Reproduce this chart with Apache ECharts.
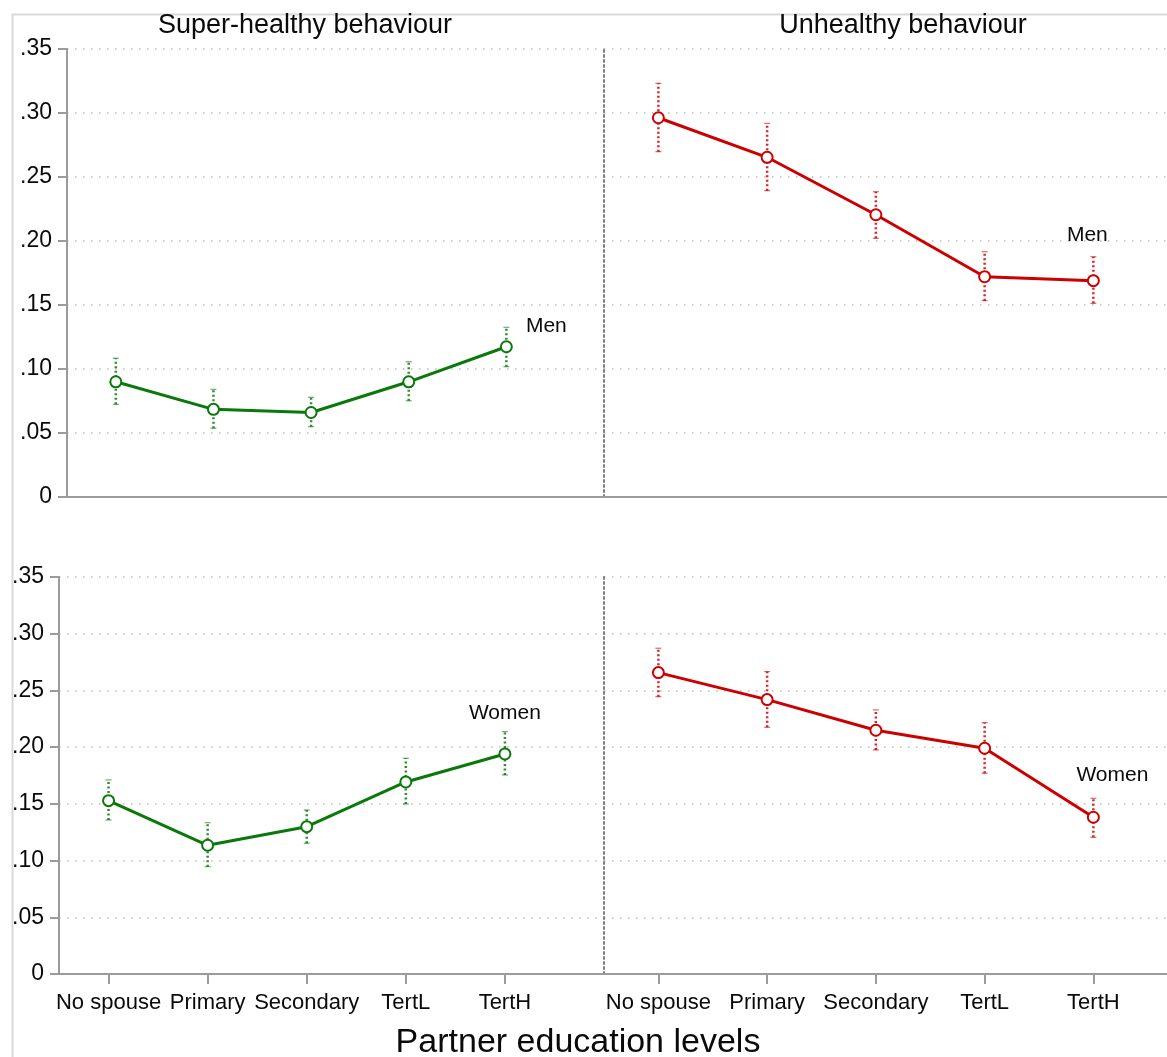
<!DOCTYPE html>
<html>
<head>
<meta charset="utf-8">
<script src="https://cdn.jsdelivr.net/npm/echarts@6/dist/echarts.min.js"></script>
<style>
  html, body { margin: 0; padding: 0; background: #ffffff; }
  #chart { width: 1167px; height: 1057px; }
</style>
</head>
<body>
<div id="chart"></div>
<script>
// Partner education categories (x positions 1..5)
const categories = ['No spouse', 'Primary', 'Secondary', 'TertL', 'TertH'];
const panelTitles = ['Super-healthy behaviour', 'Unhealthy behaviour'];
const axisTitle = 'Partner education levels';
const groupLabels = ['Men', 'Women'];

// Super-healthy behaviour, men: estimate and 95% CI
const superMen   = [0.0900, 0.0685, 0.0660, 0.0900, 0.1174];
const superMenLo = [0.0724, 0.0537, 0.0549, 0.0752, 0.1018];
const superMenHi = [0.1084, 0.0841, 0.0779, 0.1057, 0.1326];

// Unhealthy behaviour, men
const unhMen   = [0.2963, 0.2654, 0.2205, 0.1721, 0.1690];
const unhMenLo = [0.2698, 0.2393, 0.2021, 0.1534, 0.1513];
const unhMenHi = [0.3232, 0.2919, 0.2385, 0.1916, 0.1877];

// Super-healthy behaviour, women
const superWomen   = [0.1528, 0.1135, 0.1299, 0.1693, 0.1940];
const superWomenLo = [0.1358, 0.0946, 0.1152, 0.1499, 0.1755];
const superWomenHi = [0.1711, 0.1334, 0.1446, 0.1902, 0.2137];

// Unhealthy behaviour, women
const unhWomen   = [0.2657, 0.2419, 0.2149, 0.1990, 0.1382];
const unhWomenLo = [0.2445, 0.2175, 0.1975, 0.1770, 0.1205];
const unhWomenHi = [0.2872, 0.2666, 0.2328, 0.2216, 0.1549];

const FONT = '"Liberation Sans", Arial, Helvetica, sans-serif';
const GREEN = '#0a780a';
const RED = '#cc0000';
const AXIS_GREY = '#9b9b9b';
const GRID_GREY = '#bdbdbd';
const TEXT = '#0a0a0a';
const catPositions = categories.map((c, i) => i + 1);

function toPoints(vals) { return vals.map((v, i) => [i + 1, v]); }
function toBars(lo, hi) { return lo.map((l, i) => [i + 1, l, hi[i]]); }

function yLabel(v) {
  if (v === 0) return '0';
  const n = Math.round(v * 100);
  return '.' + String(n).padStart(2, '0');
}

// Panel layout: 0 = top-left, 1 = top-right, 2 = bottom-left, 3 = bottom-right
const grids = [
  { left: 67,  top: 49,  width: 537, height: 448 },
  { left: 604, top: 49,  width: 563, height: 448 },
  { left: 59,  top: 577, width: 545, height: 397 },
  { left: 604, top: 577, width: 563, height: 397 }
];
const xMax = [6.0, 0.5 + 563 / 108.75, 6.0, 0.5 + 563 / 108.75];

function makeXAxis(idx, showLabels) {
  return {
    type: 'value', gridIndex: idx, min: 0.5, max: xMax[idx],
    axisLine: { show: true, onZero: false, lineStyle: { color: AXIS_GREY, width: 2 } },
    axisTick: { show: showLabels, length: 10, customValues: catPositions,
                lineStyle: { color: AXIS_GREY, width: 2 } },
    axisLabel: { show: showLabels, customValues: catPositions, margin: 18,
                 formatter: v => categories[Math.round(v) - 1] || '',
                 fontSize: 22, color: TEXT, fontFamily: FONT },
    splitLine: { show: false }
  };
}

function makeYAxis(idx, isLeft) {
  return {
    type: 'value', gridIndex: idx, min: 0, max: 0.35, interval: 0.05,
    axisLine: isLeft
      ? { show: true, lineStyle: { color: AXIS_GREY, width: 2 } }
      : { show: true, lineStyle: { color: '#7f7f7f', width: 2, type: [2, 3] } },
    axisTick: { show: isLeft, length: 9, lineStyle: { color: AXIS_GREY, width: 2 } },
    axisLabel: { show: isLeft, formatter: yLabel, margin: 15, fontSize: 23,
                 color: TEXT, fontFamily: FONT },
    splitLine: { show: true, lineStyle: { color: GRID_GREY, width: 1.5, type: [1.5, 6.5] } }
  };
}

function lineSeries(idx, vals, color, text, offset) {
  const pts = toPoints(vals);
  const data = pts.map((p, i) => i === pts.length - 1
    ? { value: p, label: { show: true, formatter: text, position: 'inside', offset: offset,
                           color: TEXT, fontSize: 21, fontFamily: FONT } }
    : p);
  return {
    type: 'line', xAxisIndex: idx, yAxisIndex: idx, data: data,
    symbol: 'emptyCircle', symbolSize: 11,
    lineStyle: { color: color, width: 3 },
    itemStyle: { color: color, borderWidth: 3 },
    emphasis: { disabled: true }, z: 5
  };
}

function errorBarSeries(idx, lo, hi, color) {
  return {
    type: 'custom', xAxisIndex: idx, yAxisIndex: idx, data: toBars(lo, hi), z: 3,
    renderItem: function (params, api) {
      const x = api.value(0);
      const a = api.coord([x, api.value(1)]);
      const b = api.coord([x, api.value(2)]);
      return {
        type: 'group',
        children: [
          { type: 'line', shape: { x1: a[0], y1: a[1], x2: b[0], y2: b[1] },
            style: { stroke: color, lineWidth: 2.5, lineDash: [2, 2.5], opacity: 0.85 } },
          { type: 'line', shape: { x1: a[0] - 3, y1: a[1], x2: a[0] + 3, y2: a[1] },
            style: { stroke: color, lineWidth: 1.2, opacity: 0.6 } },
          { type: 'line', shape: { x1: b[0] - 3, y1: b[1], x2: b[0] + 3, y2: b[1] },
            style: { stroke: color, lineWidth: 1.2, opacity: 0.6 } }
        ]
      };
    }
  };
}

const chart = echarts.init(document.getElementById('chart'), null, { renderer: 'canvas' });

chart.setOption({
  animation: false,
  backgroundColor: '#ffffff',
  graphic: [{
    type: 'rect', left: 10, top: 12, z: -10, silent: true,
    shape: { width: 1400, height: 1400 },
    style: { fill: 'none', stroke: '#d9d9d9', lineWidth: 2 }
  }],
  title: [
    { text: panelTitles[0], left: 305, top: 12, textAlign: 'center', padding: 0,
      textStyle: { fontSize: 27, fontWeight: 'normal', color: TEXT, fontFamily: FONT } },
    { text: panelTitles[1], left: 903, top: 12, textAlign: 'center', padding: 0,
      textStyle: { fontSize: 27, fontWeight: 'normal', color: TEXT, fontFamily: FONT } },
    { text: axisTitle, left: 578, top: 1026, textAlign: 'center', padding: 0,
      textStyle: { fontSize: 34, fontWeight: 'normal', color: TEXT, fontFamily: FONT } }
  ],
  grid: grids,
  xAxis: [makeXAxis(0, false), makeXAxis(1, false), makeXAxis(2, true), makeXAxis(3, true)],
  yAxis: [makeYAxis(0, true), makeYAxis(1, false), makeYAxis(2, true), makeYAxis(3, false)],
  series: [
    errorBarSeries(0, superMenLo, superMenHi, GREEN),
    lineSeries(0, superMen, GREEN, groupLabels[0], [40, -21]),
    errorBarSeries(1, unhMenLo, unhMenHi, RED),
    lineSeries(1, unhMen, RED, groupLabels[0], [-6, -45]),
    errorBarSeries(2, superWomenLo, superWomenHi, GREEN),
    lineSeries(2, superWomen, GREEN, groupLabels[1], [0, -41]),
    errorBarSeries(3, unhWomenLo, unhWomenHi, RED),
    lineSeries(3, unhWomen, RED, groupLabels[1], [19, -42])
  ]
});
</script>
</body>
</html>
